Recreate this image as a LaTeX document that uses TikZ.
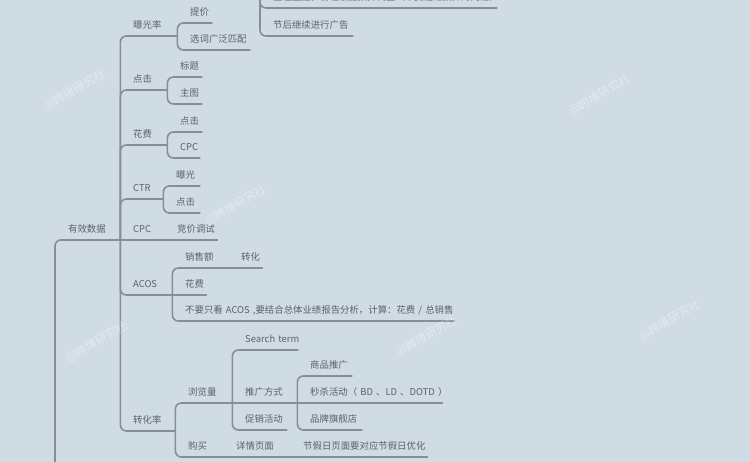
\documentclass[tikz,border=0pt]{standalone}
\usepackage{fontspec}
\setmainfont{Noto Sans CJK SC}
\definecolor{mapBg}{HTML}{CFDCE4}
\definecolor{branchGray}{HTML}{878F95}
\definecolor{topicGray}{HTML}{5B6267}
\newcommand{\lineWidth}{1.6pt}
\newcommand{\cornerRadius}{6pt}
\newcommand{\topicInset}{13pt}
\begin{document}
\begin{tikzpicture}[x=1pt,y=-1pt,
    topic/.style={anchor=south west, inner xsep=0pt, inner ysep=5.4pt,
      text height=8pt, text depth=2pt, text=topicGray,
      font=\fontsize{9.4}{11}\selectfont,
      execute at begin node={\hbox\bgroup\hspace*{\topicInset}},
      execute at end node={\egroup}},
    branch/.style={draw=branchGray, line width=\lineWidth, rounded corners=\cornerRadius},
    watermark/.style={rotate=30, text=white, opacity=0.4, font=\fontsize{11.5}{13}\selectfont}]
  \useasboundingbox (0,0) rectangle (750,462);
  \fill[mapBg] (0,0) rectangle (750,462);
  \clip (0,0) rectangle (750,462);

  \coordinate (mapcore) at (55,500);
  \coordinate (topfork) at (260,-20);

  % top group (parent above the page)
  \node[topic, text width=237pt] (quancheng) at (260,8) {全程监控，合理根据预算调整（不要超过预算的两倍）};
  \node[topic, text width=93pt] (jiehou) at (260,36) {节后继续进行广告};

  \node[topic, text width=65pt] (youxiao) at (55,240) {有效数据};

  \node[topic, text width=57pt] (bgl) at (120,36) {曝光率};
  \node[topic, text width=35pt] (tijia) at (177,23) {提价};
  \node[topic, text width=73pt] (xuanci) at (177,50) {选词广泛匹配};

  \node[topic, text width=47pt] (dianji) at (120,90) {点击};
  \node[topic, text width=35pt] (biaoti) at (167,77) {标题};
  \node[topic, text width=35pt] (zhutu) at (167,104) {主图};

  \node[topic, text width=47pt] (huafei) at (120,145) {花费};
  \node[topic, text width=35pt] (hfdianji) at (167,132) {点击};
  \node[topic, text width=33pt] (hfcpc) at (167,158) {CPC};

  \node[topic, text width=43pt] (ctr) at (120,199) {CTR};
  \node[topic, text width=37pt] (baoguang) at (163,186) {曝光};
  \node[topic, text width=37pt] (ctrdianji) at (163,213) {点击};

  \node[topic, text width=44pt] (cpc) at (120,240) {CPC};
  \node[topic, text width=54pt] (jingjia) at (164,240) {竞价调试};

  \node[topic, text width=52pt] (acos) at (120,295) {ACOS};
  \node[topic, text width=56pt] (xiaoshou) at (172,268) {销售额};
  \node[topic, text width=35pt] (zhuanhua) at (228,268) {转化};
  \node[topic, text width=35pt] (achuafei) at (172,295) {花费};
  \node[topic, text width=282pt] (buyao) at (172,321) {不要只看 ACOS ,要结合总体业绩报告分析，计算：花费 / 总销售};

  \node[topic, text width=55pt] (zhuanhualv) at (120,431) {转化率};
  \node[topic, text width=57pt] (liulan) at (175,403) {浏览量};
  \node[topic, text width=66pt] (search) at (232,350) {Search term};
  \node[topic, text width=65pt] (tuiguang) at (232,403) {推广方式};
  \node[topic, text width=55pt] (shangpin) at (297,376) {商品推广};
  \node[topic, text width=146pt] (miaosha) at (297,403) {秒杀活动（ BD 、LD 、DOTD ）};
  \node[topic, text width=65pt] (pinpai) at (297,430) {品牌旗舰店};
  \node[topic, text width=55pt] (cuxiao) at (232,430) {促销活动};
  \node[topic, text width=48pt] (goumai) at (175,457) {购买};
  \node[topic, text width=67pt] (xiangqing) at (223,457) {详情页面};
  \node[topic, text width=138pt] (jiejiari) at (290,457) {节假日页面要对应节假日优化};

  % branches
  \draw[branch] (topfork) |- (quancheng.south east);
  \draw[branch] (topfork) |- (jiehou.south east);
  \draw[branch] (mapcore) |- (youxiao.south east);
  \foreach \kid in {bgl,dianji,huafei,ctr,acos,zhuanhualv}
    \draw[branch] (youxiao.south east) |- (\kid.south east);
  \draw[branch] (youxiao.south east) -- (cpc.south east);
  \draw[branch] (cpc.south east) -- (jingjia.south east);
  \foreach \kid in {tijia,xuanci}
    \draw[branch] (bgl.south east) |- (\kid.south east);
  \foreach \kid in {biaoti,zhutu}
    \draw[branch] (dianji.south east) |- (\kid.south east);
  \foreach \kid in {hfdianji,hfcpc}
    \draw[branch] (huafei.south east) |- (\kid.south east);
  \foreach \kid in {baoguang,ctrdianji}
    \draw[branch] (ctr.south east) |- (\kid.south east);
  \foreach \kid in {xiaoshou,buyao}
    \draw[branch] (acos.south east) |- (\kid.south east);
  \draw[branch] (acos.south east) -- (achuafei.south east);
  \draw[branch] (xiaoshou.south east) -- (zhuanhua.south east);
  \foreach \kid in {liulan,goumai}
    \draw[branch] (zhuanhualv.south east) |- (\kid.south east);
  \foreach \kid in {search,cuxiao}
    \draw[branch] (liulan.south east) |- (\kid.south east);
  \draw[branch] (liulan.south east) -- (tuiguang.south east);
  \foreach \kid in {shangpin,pinpai}
    \draw[branch] (tuiguang.south east) |- (\kid.south east);
  \draw[branch] (tuiguang.south east) -- (miaosha.south east);
  \draw[branch] (goumai.south east) -- (xiangqing.south east);
  \draw[branch] (xiangqing.south east) -- (jiejiari.south east);

  % watermarks
  \foreach \wx/\wy [count=\i] in {75/90,236/205,600/95,97/342,427/336,670/320}
    \node[watermark] (wm\i) at (\wx,\wy) {@跨境研究社};
\end{tikzpicture}
\end{document}
